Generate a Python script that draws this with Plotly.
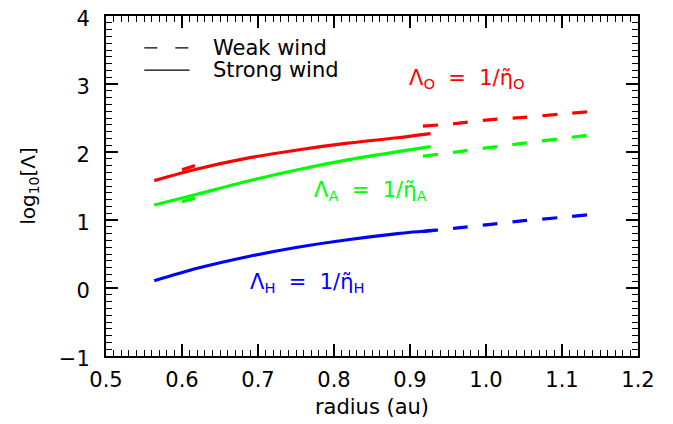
import plotly.graph_objects as go

# Strong wind (solid) curves
strong_x = [0.5635, 0.620, 0.686, 0.752, 0.818, 0.884, 0.927]
strong_ohm = [1.58, 1.75, 1.91, 2.03, 2.13, 2.21, 2.27]
strong_amb = [1.22, 1.38, 1.57, 1.74, 1.885, 2.005, 2.08]
strong_hall_x = [0.5635, 0.620, 0.686, 0.752, 0.818, 0.884, 0.934]
strong_hall = [0.107, 0.29, 0.46, 0.60, 0.71, 0.80, 0.853]

# Weak wind (dashed) curves: short piece near 0.6 and outer piece
weak_x = [0.600, 0.617, None, 0.917, 0.96, 1.00, 1.05, 1.10, 1.133]
weak_ohm = [1.74, 1.80, None, 2.38, 2.42, 2.47, 2.51, 2.56, 2.59]
weak_amb = [1.27, 1.32, None, 1.94, 2.00, 2.06, 2.13, 2.20, 2.245]
weak_hall_x = [0.917, 0.96, 1.00, 1.05, 1.10, 1.133]
weak_hall = [0.83, 0.88, 0.93, 0.99, 1.04, 1.075]

x_ticks = [0.5, 0.6, 0.7, 0.8, 0.9, 1.0, 1.1, 1.2]
y_ticks = [-1, 0, 1, 2, 3, 4]

legend_names = ["Weak wind", "Strong wind"]

RED, GREEN, BLUE = "#FF0000", "#00FF00", "#0000FF"
FONT = "DejaVu Sans"
LW = 3.2
DASH = "15px,15px"

fig = go.Figure()
for xs, y, c in [(strong_x, strong_ohm, RED), (strong_x, strong_amb, GREEN), (strong_hall_x, strong_hall, BLUE)]:
    fig.add_trace(go.Scatter(x=xs, y=y, mode="lines", showlegend=False, name="Strong wind",
                             line=dict(color=c, width=LW, shape="spline", smoothing=0.8)))
for xs, y, c in [(weak_x, weak_ohm, RED), (weak_x, weak_amb, GREEN), (weak_hall_x, weak_hall, BLUE)]:
    fig.add_trace(go.Scatter(x=xs, y=y, mode="lines", showlegend=False, connectgaps=False, name="Weak wind",
                             line=dict(color=c, width=LW, dash=DASH, shape="spline", smoothing=0.8)))

# legend key (drawn as decoration in paper coordinates)
key_x0, key_x1, text_x = 0.072, 0.157, 0.197
key_rows = [(0.906, "13px,18px"), (0.841, "solid")]
for (ky, kd), name in zip(key_rows, legend_names):
    fig.add_shape(type="line", xref="paper", yref="paper", x0=key_x0, x1=key_x1, y0=ky, y1=ky,
                  line=dict(color="black", width=1.2, dash=kd))
    fig.add_annotation(xref="paper", yref="paper", x=text_x, y=ky, text=name, showarrow=False,
                       xanchor="left", yanchor="middle",
                       font=dict(family=FONT, size=21, color="black"))

SP = "\u00a0"
labels = [
    (0.975, 3.08, f"Λ<sub>O</sub>{SP}{SP}={SP}{SP}1/η̃<sub>O</sub>", RED),
    (0.848, 1.426, f"Λ<sub>A</sub>{SP}{SP}={SP}{SP}1/η̃<sub>A</sub>", GREEN),
    (0.765, 0.074, f"Λ<sub>H</sub>{SP}{SP}={SP}{SP}1/η̃<sub>H</sub>", BLUE),
]
for x, y, t, c in labels:
    fig.add_annotation(x=x, y=y, text=t, showarrow=False,
                       font=dict(family=FONT, size=21, color=c))

axis_common = dict(
    showline=True, linewidth=2, linecolor="black", mirror="ticks",
    ticks="inside", ticklen=12, tickwidth=1.5, tickcolor="black",
    showgrid=False, zeroline=False, ticklabeloverflow="allow",
    tickfont=dict(family=FONT, size=21, color="black"),
)
fig.update_xaxes(range=[0.5, 1.2], tickvals=x_ticks, ticktext=[f"{v:.1f}" for v in x_ticks],
                 minor=dict(dtick=0.01, ticks="inside", ticklen=6, tickwidth=1, tickcolor="black", showgrid=False),
                 title=dict(text="radius (au)", font=dict(family=FONT, size=21, color="black"), standoff=8),
                 ticklabelstandoff=4,
                 **axis_common)
fig.update_yaxes(range=[-1, 4.001], tickvals=y_ticks, ticktext=["−1", "0", "1", "2", "3", "4"],
                 minor=dict(dtick=0.1, ticks="inside", ticklen=6, tickwidth=1, tickcolor="black", showgrid=False),
                 title=dict(text="log<sub>10</sub>[Λ]", font=dict(family=FONT, size=20, color="black"), standoff=18),
                 ticklabelstandoff=10, ticklabelshift=3,
                 **axis_common)

fig.update_layout(
    width=673, height=424,
    margin=dict(l=98, r=43, t=8, b=76, autoexpand=False),
    plot_bgcolor="white", paper_bgcolor="white",
    font=dict(family=FONT, color="black"),
    showlegend=False,
)

fig.write_html("out.html")
